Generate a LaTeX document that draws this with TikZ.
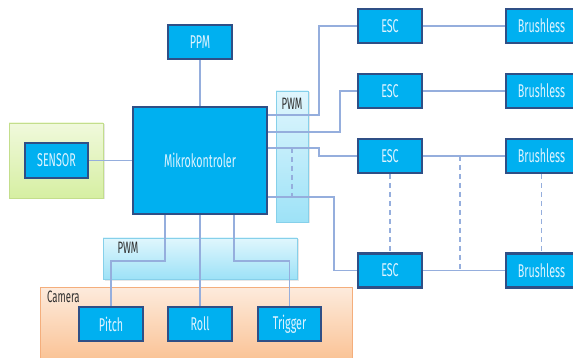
\documentclass[tikz,border=0pt]{standalone}
\usepackage{fontspec}
\newfontfamily\narrowsans[FakeStretch=0.58]{Fira Sans}
\usetikzlibrary{shadows}

\definecolor{boxfill}{HTML}{00B0F0}
\definecolor{boxedge}{HTML}{2F4F86}
\definecolor{boxtext}{HTML}{DDF3FF}
\definecolor{wire}{HTML}{95AEDD}
\definecolor{labelgray}{HTML}{2E2E2E}
\definecolor{pwmtop}{HTML}{E0F6FD}
\definecolor{pwmbot}{HTML}{9DE2F7}
\definecolor{pwmedge}{HTML}{86D0EA}
\definecolor{greentop}{HTML}{F0F9DC}
\definecolor{greenbot}{HTML}{D6EFA2}
\definecolor{greenedge}{HTML}{C3DE8C}
\definecolor{camtop}{HTML}{FDEBDD}
\definecolor{cambot}{HTML}{FAC090}
\definecolor{camedge}{HTML}{F4AE7C}

\tikzset{
  blk/.style={draw=boxedge, line width=2.2pt, fill=boxfill, text=boxtext,
    font=\narrowsans\fontsize{18.5}{18.5}\selectfont, minimum height=34,
    inner sep=0pt},
  panelshadow/.style={drop shadow={opacity=0.2, shadow xshift=1.5pt, shadow yshift=-1.5pt}},
  pwmpanel/.style={draw=pwmedge, line width=0.8pt, top color=pwmtop, bottom color=pwmbot, panelshadow},
  greenpanel/.style={draw=greenedge, line width=0.8pt, top color=greentop, bottom color=greenbot, panelshadow},
  campanel/.style={draw=camedge, line width=0.8pt, top color=camtop, bottom color=cambot},
  tag/.style={text=labelgray, font=\narrowsans\fontsize{16.5}{16.5}\selectfont, inner sep=0pt},
  wireline/.style={draw=wire, line width=1.1pt},
  dashwire/.style={draw=wire, line width=1.1pt, dash pattern=on 5pt off 4pt},
}

\begin{document}
\begin{tikzpicture}[x=1pt, y=-1pt]
\useasboundingbox (0,0) rectangle (573,358);
\clip (0,0) rectangle (573,358);

% background panels
\path[greenpanel] (9,123) rectangle (103,198);
\path[campanel] (40,287) rectangle (352,365);
\path[pwmpanel] (103,238) rectangle (297,279);
\path[pwmpanel] (276,91) rectangle (308,222);

\node[tag] (pwmv) at (292,104) {PWM};
\node[tag] (pwmh) at (128,248) {PWM};
\node[tag, anchor=west] (cam) at (47,297) {Camera};

% blocks
\node[blk, minimum width=64] (ppm) at (200,42) {PPM};
\node[blk, minimum width=134, minimum height=107] (mcu) at (200,160.5) {Mikrokontroler};
\node[blk, minimum width=63, minimum height=35] (sensor) at (56.5,160.5) {SENSOR};

\foreach \i/\y in {1/26, 2/91, 3/156, 4/270.5} {
  \node[blk, minimum width=64] (esc\i) at (390,\y) {ESC};
  \node[blk, minimum width=71] (bl\i) at (541.5,\y) {Brushless};
}

\node[blk, minimum width=64] (pitch) at (111,324) {Pitch};
\node[blk, minimum width=64] (roll) at (200,324) {Roll};
\node[blk, minimum width=63] (trig) at (289.5,324) {Trigger};

% connectors
\draw[wireline] (ppm) -- (mcu);
\draw[wireline] (sensor) -- (mcu);

\draw[wireline] (mcu.east |- 0,115) -- (319,115) |- (esc1.west);
\draw[wireline] (mcu.east |- 0,132) -- (340,132) |- (esc2.west);
\draw[wireline] (mcu.east |- 0,148) -- (319,148) |- (esc3.west);
\draw[wireline] (mcu.east |- 0,197) -- (334,197) |- (esc4.west);
\draw[dashwire] (292,148) -- (292,197);

\foreach \i in {1,2,3,4} {
  \draw[wireline] (esc\i) -- (bl\i);
}
\draw[dashwire] (esc3) -- (esc4);
\draw[dashwire] (bl3) -- (bl4);
\draw[dashwire] (460,156) -- (460,270.5);

\draw[wireline] (mcu.south -| 165,0) -- (165,261) -| (pitch.north);
\draw[wireline] (mcu) -- (roll);
\draw[wireline] (mcu.south -| 234,0) -- (234,261) -| (trig.north);
\end{tikzpicture}
\end{document}
